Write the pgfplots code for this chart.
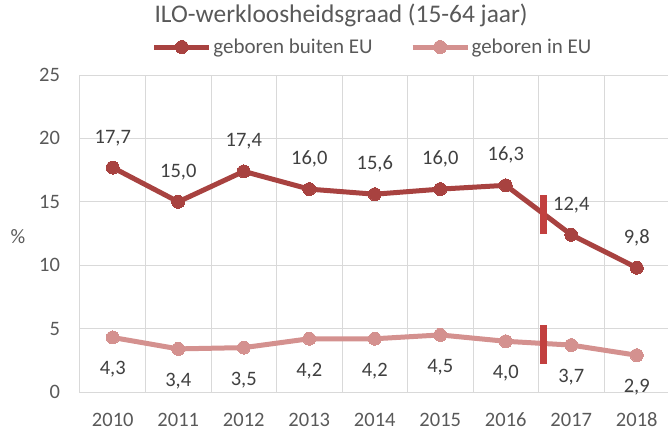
\documentclass[border=0pt]{standalone}
\usepackage{pgfplots}
\pgfplotsset{compat=1.18}
\usepackage{fontspec}
\setmainfont{Carlito}
\definecolor{darkred}{HTML}{A84240}
\definecolor{lightred}{HTML}{D4918F}
\definecolor{breakred}{HTML}{C2403F}
\definecolor{gridgray}{HTML}{D9D9D9}
\definecolor{labelgray}{HTML}{595959}
\definecolor{valgray}{HTML}{404040}
\begin{document}
\begin{tikzpicture}
\useasboundingbox (-80pt,-40pt) rectangle (588pt,392pt);
\begin{axis}[
  scale only axis,
  width=589.5pt, height=317pt,
  xmin=2009.5, xmax=2018.5, ymin=0, ymax=25,
  ytick={0,5,10,15,20,25},
  xtick={2010,2011,2012,2013,2014,2015,2016,2017,2018},
  xticklabels={2010,2011,2012,2013,2014,2015,2016,2017,2018},
  minor xtick={2010.5,2011.5,2012.5,2013.5,2014.5,2015.5,2016.5,2017.5},
  xminorgrids, ymajorgrids,
  grid style={draw=gridgray, line width=1pt},
  minor grid style={draw=gridgray, line width=1pt},
  axis line style={draw=gridgray, line width=1pt},
  major tick length=0pt, minor tick length=0pt,
  /pgf/number format/assume math mode=true,
  tick label style={font=\fontsize{20.5}{24}\selectfont, text=labelgray, inner sep=0pt, outer sep=0pt},
  y tick label style={anchor=base east, xshift=-20pt, yshift=-6.5pt},
  x tick label style={anchor=base, yshift=-34.5pt},
  ylabel={\%},
  ylabel style={font=\fontsize{20.5}{24}\selectfont, text=labelgray, rotate=-90, at={(axis description cs:0,0.489)}, anchor=center, xshift=-62pt},
  title={ILO-werkloosheidsgraad (15-64 jaar)},
  title style={font=\fontsize{25.4}{30}\selectfont, text=labelgray, at={(axis description cs:0.443,1)}, anchor=base, yshift=47pt, inner sep=0pt},
  legend columns=2,
  legend style={draw=none, fill=none, at={(axis description cs:0.496,1)}, anchor=center, yshift=28pt,
    font=\fontsize{21}{25}\selectfont, text=labelgray,
    /tikz/every even column/.append style={column sep=36pt},
    nodes={inner sep=1.5pt}},
  legend image code/.code={
    \draw[#1, mark repeat=2, mark phase=2] plot coordinates {(0pt,0pt) (27.5pt,0pt) (55pt,0pt)};
  },
]
\addplot[darkred, line width=5pt, mark=*, mark size=6.5pt, mark options={solid, fill=darkred, draw=darkred, line width=0pt},
  nodes near coords={\pgfmathprintnumber[fixed,fixed zerofill,precision=1,use comma]{\pgfplotspointmeta}},
  every node near coord/.append style={font=\fontsize{20.5}{24}\selectfont, text=valgray, anchor=base, inner sep=0pt, yshift=24.5pt}]
  coordinates {(2010,17.7) (2011,15.0) (2012,17.4) (2013,16.0) (2014,15.6) (2015,16.0) (2016,16.3) (2017,12.4) (2018,9.8)};
\addlegendentry{geboren buiten EU}
\addplot[lightred, line width=5pt, mark=*, mark size=6.5pt, mark options={solid, fill=lightred, draw=lightred, line width=0pt},
  nodes near coords={\pgfmathprintnumber[fixed,fixed zerofill,precision=1,use comma]{\pgfplotspointmeta}},
  every node near coord/.append style={font=\fontsize{20.5}{24}\selectfont, text=valgray, anchor=base, inner sep=0pt, yshift=-37.5pt}]
  coordinates {(2010,4.3) (2011,3.4) (2012,3.5) (2013,4.2) (2014,4.2) (2015,4.5) (2016,4.0) (2017,3.7) (2018,2.9)};
\addlegendentry{geboren in EU}
\addplot[breakred, line width=7pt, no marks, line cap=butt, forget plot] coordinates {(2016.57,12.46) (2016.57,15.54)};
\addplot[breakred, line width=7pt, no marks, line cap=butt, forget plot] coordinates {(2016.57,2.21) (2016.57,5.28)};
\end{axis}
\end{tikzpicture}
\end{document}
